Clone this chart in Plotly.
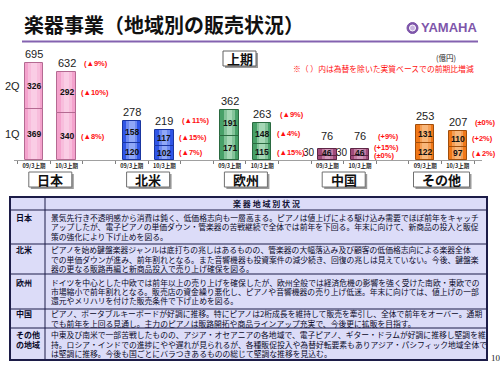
import plotly.graph_objects as go

# ---------------- data ----------------
regions = ["日本", "北米", "欧州", "中国", "その他"]
periods = ["09/3上期", "10/3上期"]
q1_values = [369, 340, 120, 102, 171, 115, 30, 30, 122, 97]
q2_values = [326, 292, 158, 117, 191, 148, 46, 46, 131, 110]
pct_total = ["(▲9%)", "(▲11%)", "(▲9%)", "(+9%)", "(±0%)"]
pct_q2 = ["(▲10%)", "(▲15%)", "(▲4%)", "(+15%)", "(+2%)"]
pct_q1 = ["(▲8%)", "(▲7%)", "(▲15%)", "(±0%)", "(▲2%)"]
quarter_labels = ["1Q", "2Q"]

title_text = "楽器事業（地域別の販売状況）"
period_box_text = "上期"
unit_text = "(億円)"
note_text = "※（ ）内は為替を除いた実質ベースでの前期比増減"
table_header = "楽 器 地 域 別 状 況"
table_names = [["日本"], ["北米"], ["欧州"], ["中国"], ["その他", "の地域"]]
table_texts = [
    ["景気先行き不透明感から消費は鈍く、低価格志向も一層高まる。ピアノは値上げによる駆け込み需要でほぼ前年をキャッチ",
     "アップしたが、電子ピアノの単価ダウン・管楽器の苦戦継続で全体では前年を下回る。年末に向けて、新商品の投入と販促",
     "策の強化により下げ止めを図る。"],
    ["ピアノを始め鍵盤楽器ジャンルは底打ちの兆しはあるものの、管楽器の大幅落込み及び顧客の低価格志向による楽器全体",
     "での単価ダウンが進み、前年割れとなる。また音響機器も投資案件の減少続き、回復の兆しは見えていない。今後、鍵盤楽",
     "器の更なる販路再編と新商品投入で売り上げ確保を図る。"],
    ["ドイツを中心とした中欧では前年以上の売り上げを確保したが、欧州全般では経済危機の影響を強く受けた南欧・東欧での",
     "市場縮小で前年割れとなる。販売店の資金繰り悪化し、ピアノや音響機器の売り上げ低迷。年末に向けては、値上げの一部",
     "還元やメリハリを付けた販売条件で下げ止めを図る。"],
    ["ピアノ、ポータブルキーボードが好調に推移。特にピアノは2桁成長を維持して販売を牽引し、全体で前年をオーバー。通期",
     "でも前年を上回る見通し。主力のピアノは販路開拓や商品ラインアップ充実で、今後更に拡販を目指す。"],
    ["中東及び南米で一部苦戦したものの、アジア・オセアニアの各地域で、電子ピアノ、ギター・ドラムが好調に推移し堅調を維",
     "持。ロシア・インドでの進捗にやや遅れが見られるが、各種販促投入や為替好転要素もありアジア・パシフィック地域全体で",
     "は堅調に推移。今後も国ごとにバラつきあるものの総じて堅調な推移を見込む。"],
]
page_number = "10"

# ---------------- styles / layout ----------------
W, H = 500, 375
def px(x): return x / W
def py(y): return 1 - y / H

JP = "Noto Sans CJK JP"
LAT = "Liberation Sans, Arial"

base_col = ["#F4A3CD", "#3056E6", "#47A068", "#A04A7A", "#F07818"]
hl_col = ["#FCD4EA", "#A0B6FA", "#B4E0C2", "#DCA6C6", "#FAC08A"]
line_col = ["#B46A92", "#1A36A0", "#2A6A40", "#5E2646", "#A04E0C"]

X0_PX, UNIT = 34.0, 32.6
BASE_PX, SCALE, TOP_PX = 160.0, 0.139, 45.0
XDOM = [14, 482]

n = len(regions)
xs = [3 * g + k for g in range(n) for k in range(2)]
totals = [a + b for a, b in zip(q1_values, q2_values)]
rep = lambda arr: [arr[i // 2] for i in range(2 * n)]

fig = go.Figure()
BW = 0.56
for vals, bases in [(q1_values, [0] * (2 * n)), (q2_values, q1_values)]:
    fig.add_trace(go.Bar(x=xs, y=vals, base=bases, width=BW,
                         marker=dict(color=rep(base_col), line=dict(width=0)),
                         hoverinfo="skip", showlegend=False))
    fig.add_trace(go.Bar(x=xs, y=vals, base=bases, width=BW * 0.62,
                         marker=dict(color=rep(hl_col), line=dict(width=0)), opacity=0.55,
                         hoverinfo="skip", showlegend=False))
    fig.add_trace(go.Bar(x=xs, y=vals, base=bases, width=BW * 0.3,
                         marker=dict(color=rep(hl_col), line=dict(width=0)), opacity=0.7,
                         hoverinfo="skip", showlegend=False))
for vals, bases in [(q1_values, [0] * (2 * n)), (q2_values, q1_values)]:
    fig.add_trace(go.Bar(x=xs, y=vals, base=bases, width=BW,
                         marker=dict(color="rgba(0,0,0,0)", line=dict(color=rep(line_col), width=1)),
                         hoverinfo="text", hovertext=[str(v) for v in vals], showlegend=False))

ann = []
shapes = []

# segment labels
for i, x in enumerate(xs):
    for vals, base in [(q1_values[i], 0), (q2_values[i], q1_values[i])]:
        if vals < 40:
            ann.append(dict(x=x - BW / 2 - 0.04, y=base + vals, yshift=3, xref="x", yref="y",
                            text=str(vals), showarrow=False, xanchor="right", yanchor="middle",
                            font=dict(family=LAT, size=10, color="#222222")))
        else:
            ann.append(dict(x=x, y=base + vals / 2, xref="x", yref="y", text="<b>%d</b>" % vals,
                            showarrow=False, xanchor="center", yanchor="middle",
                            font=dict(family=LAT, size=8.5, color="#111111")))
    small = totals[i] < 120
    ann.append(dict(x=x, y=totals[i], yshift=13 if small else 9, xref="x", yref="y",
                    text=str(totals[i]), showarrow=False, xanchor="center", yanchor="middle",
                    font=dict(family=LAT, size=11, color="#222222")))

# percentage labels (right of second bar)
for g in range(n):
    i = 2 * g + 1
    x = xs[i] + BW / 2 + 0.1
    small = totals[i] < 120
    items = [(totals[i], 13 if small else 9, pct_total[g], 0.1),
             (q1_values[i] + q2_values[i] / 2, 5.5 if small else 0, pct_q2[g], 0),
             (q1_values[i] / 2, 2 if small else 0, pct_q1[g], 0)]
    for yv, sh, t, dx in items:
        ann.append(dict(x=x + dx, y=yv, yshift=sh, xref="x", yref="y", text="<b>%s</b>" % t,
                        showarrow=False, xanchor="left", yanchor="middle",
                        font=dict(family=LAT, size=7.5, color="#FF1010")))

# 1Q / 2Q labels
for lab, yv in [(quarter_labels[0], q1_values[0] / 2), (quarter_labels[1], q1_values[0] + q2_values[0] / 2)]:
    ann.append(dict(x=(22 - X0_PX) / UNIT, y=yv, xref="x", yref="y", text=lab, showarrow=False,
                    xanchor="right", yanchor="middle", font=dict(family=LAT, size=11, color="#222222")))

# region label boxes
for g, name in enumerate(regions):
    cx = X0_PX + UNIT * (3 * g + 0.5)
    bw = len(name) * 13 + 17
    x0, x1, y0, y1 = cx - bw / 2, cx + bw / 2, 172, 187
    shapes.append(dict(type="rect", xref="paper", yref="paper", x0=px(x0 + 2), x1=px(x1 + 2),
                       y0=py(y1 + 2), y1=py(y0 + 2), fillcolor="#9A9A9A", line=dict(width=0)))
    shapes.append(dict(type="rect", xref="paper", yref="paper", x0=px(x0), x1=px(x1),
                       y0=py(y1), y1=py(y0), fillcolor="white", line=dict(color="#707070", width=1)))
    ann.append(dict(x=px(cx), y=py((y0 + y1) / 2), xref="paper", yref="paper", text="<b>%s</b>" % name,
                    showarrow=False, xanchor="center", yanchor="middle",
                    font=dict(family=JP, size=13, color="#111111")))

# 上期 box
shapes.append(dict(type="rect", xref="paper", yref="paper", x0=px(225), x1=px(258),
                   y0=py(68), y1=py(53), fillcolor="#9A9A9A", line=dict(width=0)))
shapes.append(dict(type="rect", xref="paper", yref="paper", x0=px(223), x1=px(256),
                   y0=py(66), y1=py(51), fillcolor="white", line=dict(color="#606060", width=1)))
ann.append(dict(x=px(239.5), y=py(58.5), xref="paper", yref="paper", text="<b>%s</b>" % period_box_text,
                showarrow=False, xanchor="center", yanchor="middle", font=dict(family=JP, size=13, color="#111")))

# title, rule, logo
ann.append(dict(x=px(22), y=py(25), xref="paper", yref="paper", text="<b>%s</b>" % title_text,
                showarrow=False, xanchor="left", yanchor="middle", font=dict(family=JP, size=20, color="#111111")))
shapes.append(dict(type="line", xref="paper", yref="paper", x0=px(22), x1=px(478), y0=py(41.5), y1=py(41.5),
                   line=dict(color="#8462B0", width=2)))
shapes.append(dict(type="circle", xref="paper", yref="paper", x0=px(407), x1=px(418), y0=py(33.5), y1=py(22.5),
                   fillcolor="#7E56AA", line=dict(color="#7E56AA", width=1)))
shapes.append(dict(type="circle", xref="paper", yref="paper", x0=px(409.5), x1=px(415.5), y0=py(31), y1=py(25),
                   fillcolor="#C8B4E0", line=dict(color="white", width=1)))
ann.append(dict(x=px(419), y=py(28), xref="paper", yref="paper", text="<b>YAMAHA</b>", showarrow=False,
                xanchor="left", yanchor="middle", font=dict(family=LAT, size=13, color="#7E56AA")))
ann.append(dict(x=px(446), y=py(57), xref="paper", yref="paper", text=unit_text, showarrow=False,
                xanchor="center", yanchor="middle", font=dict(family=JP, size=7.5, color="#222")))
ann.append(dict(x=px(291), y=py(69), xref="paper", yref="paper", text=note_text, showarrow=False,
                xanchor="left", yanchor="middle", font=dict(family=JP, size=7.8, color="#FF1010")))

# table
TL, TR, COL = 10, 487, 45
bounds = [197, 210, 244, 274, 309, 328, 360]
shapes.append(dict(type="rect", xref="paper", yref="paper", x0=px(TL), x1=px(TR), y0=py(bounds[-1]),
                   y1=py(bounds[0]), fillcolor="#DCDCF8", line=dict(color="#1C1C48", width=2)))
for b in bounds[1:-1]:
    shapes.append(dict(type="line", xref="paper", yref="paper", x0=px(TL), x1=px(TR), y0=py(b), y1=py(b),
                       line=dict(color="#1C1C48", width=1)))
shapes.append(dict(type="line", xref="paper", yref="paper", x0=px(COL), x1=px(COL), y0=py(bounds[0]),
                   y1=py(bounds[-1]), line=dict(color="#1C1C48", width=1)))
ann.append(dict(x=px((COL + TR) / 2), y=py((bounds[0] + bounds[1]) / 2), xref="paper", yref="paper",
                text="<b>%s</b>" % table_header, showarrow=False, xanchor="center", yanchor="middle",
                font=dict(family=JP, size=8, color="#111133")))
LS = 9.4
for r in range(len(table_texts)):
    top, bot = bounds[r + 1], bounds[r + 2]
    lines = table_texts[r]
    c = (top + bot) / 2
    ys = [c + (k - (len(lines) - 1) / 2) * LS for k in range(len(lines))]
    for k, t in enumerate(lines):
        ann.append(dict(x=px(49), y=py(ys[k]), xref="paper", yref="paper", text=t, showarrow=False,
                        xanchor="left", yanchor="middle", font=dict(family=JP, size=7.8, color="#0A0A28")))
    for k, t in enumerate(table_names[r]):
        ann.append(dict(x=px(14), y=py(ys[k]), xref="paper", yref="paper", text="<b>%s</b>" % t,
                        showarrow=False, xanchor="left", yanchor="middle",
                        font=dict(family=JP, size=8, color="#0A0A28")))
ann.append(dict(x=px(489), y=py(358), xref="paper", yref="paper", text=page_number, showarrow=False,
                xanchor="left", yanchor="middle", font=dict(family="Liberation Serif", size=9, color="#222")))

fig.update_layout(
    width=W, height=H, margin=dict(l=0, r=0, t=0, b=0),
    paper_bgcolor="white", plot_bgcolor="white", barmode="overlay", bargap=0,
    xaxis=dict(domain=[px(XDOM[0]), px(XDOM[1])],
               range=[(XDOM[0] - X0_PX) / UNIT, (XDOM[1] - X0_PX) / UNIT],
               tickvals=xs, ticktext=["<b>%s</b>" % periods[i % 2] for i in range(2 * n)],
               tickfont=dict(family=JP, size=5.5, color="#222"), ticks="", showgrid=False, zeroline=False,
               showline=True, linecolor="#A0A0A0", linewidth=1, fixedrange=True,
               minor=dict(tickvals=[v - 0.5 for v in range(0, 3 * n)], ticks="outside", ticklen=3,
                          tickcolor="#808080", tickwidth=1, showgrid=False)),
    yaxis=dict(domain=[py(BASE_PX), py(TOP_PX)], range=[0, (BASE_PX - TOP_PX) / SCALE],
               visible=False, fixedrange=True),
    annotations=ann, shapes=shapes,
)

fig.write_html("out.html", config={"displayModeBar": False},
               post_script="document.body.style.margin='0';document.body.style.overflow='hidden';")
